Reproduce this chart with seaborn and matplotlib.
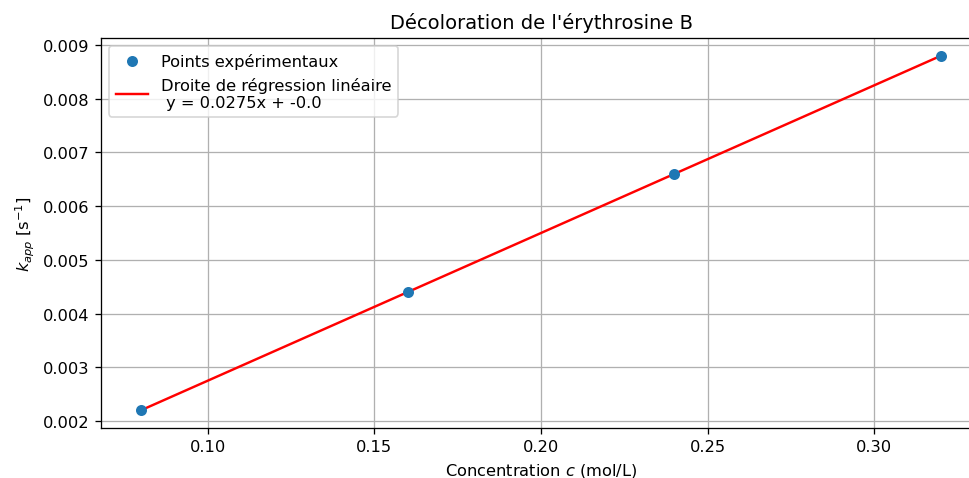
import numpy as np
import pandas as pd
import seaborn as sns
import matplotlib
matplotlib.use("Agg")
import matplotlib.pyplot as plt

# data
concentration = [0.08, 0.16, 0.24, 0.32]
k_app = [0.0022, 0.0044, 0.0066, 0.0088]

df = pd.DataFrame({"c": concentration, "k": k_app})

# linear regression
slope, intercept = np.polyfit(df["c"], df["k"], 1)
df["fit"] = slope * df["c"] + intercept

dpi = 117
W, H = 969, 479
fig = plt.figure(figsize=(W / dpi, H / dpi), dpi=dpi)
# the reference is a screenshot cropped on the right, so the axes run past the edge
ax = fig.add_axes([101 / W, 1 - 429 / H, 880 / W, 390 / H])

sns.scatterplot(
    data=df,
    x="c",
    y="k",
    color="#1f77b4",
    s=46,
    linewidth=0,
    label="Points expérimentaux",
    ax=ax,
    zorder=3
)

sns.lineplot(
    data=df,
    x="c",
    y="fit",
    color="red",
    linewidth=1.5,
    label=f"Droite de régression linéaire\n y = {round(slope, 4)}x + {round(intercept, 4)}",
    ax=ax,
    zorder=2
)

ax.set_title("Décoloration de l'érythrosine B")
ax.set_xlabel("Concentration $c$ (mol/L)")
ax.set_ylabel(r"$k_{app}$ [s$^{-1}$]")
ax.grid(True)
ax.legend(loc="upper left")

fig.savefig("out.png", dpi=dpi)
